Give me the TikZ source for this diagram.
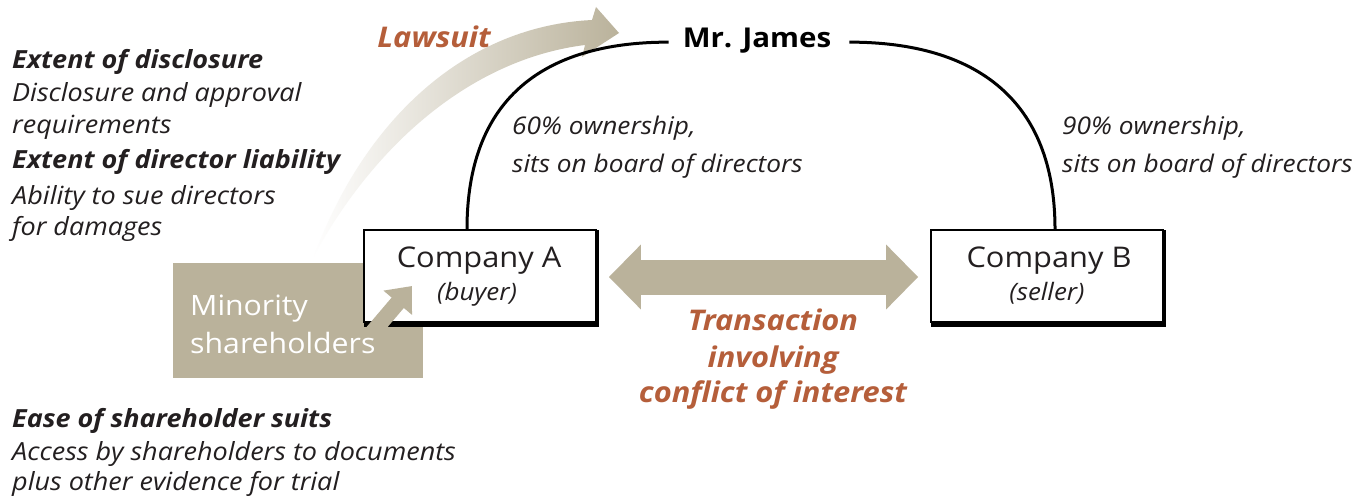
\documentclass[tikz,border=0pt]{standalone}
\usepackage{fontspec}
\setmainfont{Open Sans}[FakeStretch=1.08]
\usetikzlibrary{arrows.meta,calc}
\definecolor{khaki}{RGB}{186,178,155}
\definecolor{rust}{RGB}{181,94,58}
\definecolor{ink}{RGB}{35,31,32}
\begin{document}
\begin{tikzpicture}[x=1pt,y=-1pt,
  body/.style={inner sep=0pt, anchor=base west, text=ink, font=\fontsize{25}{30}\selectfont\itshape},
  head/.style={body, font=\fontsize{25}{30}\selectfont\bfseries\itshape},
  own/.style={body, font=\fontsize{24.3}{30}\selectfont\itshape},
  orange/.style={inner sep=0pt, anchor=base, text=rust, font=\fontsize{28.5}{34}\selectfont\bfseries\itshape},
  company/.style={draw=black, line width=1.8pt, fill=white, minimum width=232pt, minimum height=92pt, inner sep=0pt},
  shadowbar/.style={fill=black},
  cname/.style={inner sep=0pt, anchor=base, text=ink, font=\fontsize{28.5}{34}\selectfont},
  crole/.style={inner sep=0pt, anchor=base, text=ink, font=\fontsize{24}{28}\selectfont\itshape},
  mintext/.style={inner sep=0pt, anchor=base west, text=white, font=\fontsize{28}{34}\selectfont},
  tie/.style={line width=3pt, black},
  fat/.style={khaki, line width=35pt, {Triangle[width=63pt,length=32pt]}-{Triangle[width=63pt,length=32pt]}},
  push/.style={khaki, line width=16pt, -{Triangle[width=36pt,length=22pt]}}
]
\useasboundingbox (0,0) rectangle (1364,500);
\fill[white] (0,0) rectangle (1364,500);

% left texts
\node[head] (h1) at (12,69) {Extent of disclosure};
\node[body] (b1) at (12,102) {Disclosure and approval};
\node[body] (b2) at (12,133) {requirements};
\node[head] (h2) at (12,168) {Extent of director liability};
\node[body] (b3) at (12,204) {Ability to sue directors};
\node[body] (b4) at (12,235) {for damages};
\node[head] (h3) at (12,427) {Ease of shareholder suits};
\node[body] (b5) at (12,460) {Access by shareholders to documents};
\node[body] (b6) at (12,490) {plus other evidence for trial};

% lawsuit arrow
\shade[left color=white, middle color=khaki, right color=khaki]
  (314,256) .. controls (366,116) and (468,26) .. (592,20) -- (596,7) -- (619,33) -- (582,57) -- (585,45)
  .. controls (480,58) and (380,134) .. (312,259) -- cycle;
\node[orange] (law) at (434,48) {Lawsuit};

% minority shareholders
\node[fill=khaki, minimum width=250pt, minimum height=115pt, inner sep=0pt, anchor=north west] (min) at (173,263) {};
\node[mintext] (m1) at (190,315) {Minority};
\node[mintext] (m2) at (190,353) {shareholders};

% companies
\node[company] (A) at (480,276) {};
\fill[shadowbar] ($(A.south west)+(1,0)$) rectangle ($(A.south east)+(2,4)$);
\fill[shadowbar] ($(A.north east)+(0,1)$) rectangle ($(A.south east)+(2,4)$);
\node[cname] (an) at (479,267) {Company A};
\node[crole] (ar) at (477,300) {(buyer)};
\node[company] (B) at (1047,276) {};
\fill[shadowbar] ($(B.south west)+(1,0)$) rectangle ($(B.south east)+(2,4)$);
\fill[shadowbar] ($(B.north east)+(0,1)$) rectangle ($(B.south east)+(2,4)$);
\node[cname] (bn) at (1049,267) {Company B};
\node[crole] (br) at (1047,300) {(seller)};

% push arrow from minority to A
\coordinate (ps) at (372,333);
\coordinate (pt) at (412,286);
\draw[push] (ps) -- (pt);

% Mr James
\node[inner sep=0pt, anchor=base, text=black, font=\fontsize{27.3}{34}\selectfont\bfseries] (J) at (757,48) {Mr. James};
\draw[tie] ($(A.north)+(-13,0)$) .. controls +(0,-128) and +(-128,0) .. ($(J.west)+(-14,1)$);
\draw[tie] ($(J.east)+(18,1)$) .. controls +(128,0) and +(0,-128) .. ($(B.north)+(8,0)$);
\node[own] (o1) at (512,135) {60\% ownership,};
\node[own] (o2) at (512,172) {sits on board of directors};
\node[own] (o3) at (1062,135) {90\% ownership,};
\node[own] (o4) at (1062,172) {sits on board of directors};

% transaction
\draw[fat] ($(A.east)+(12,1)$) -- ($(B.west)+(-12,1)$);
\node[orange] (t1) at (773,330) {Transaction};
\node[orange] (t2) at (773,367) {involving};
\node[orange] (t3) at (773,402) {conflict of interest};
\end{tikzpicture}
\end{document}
